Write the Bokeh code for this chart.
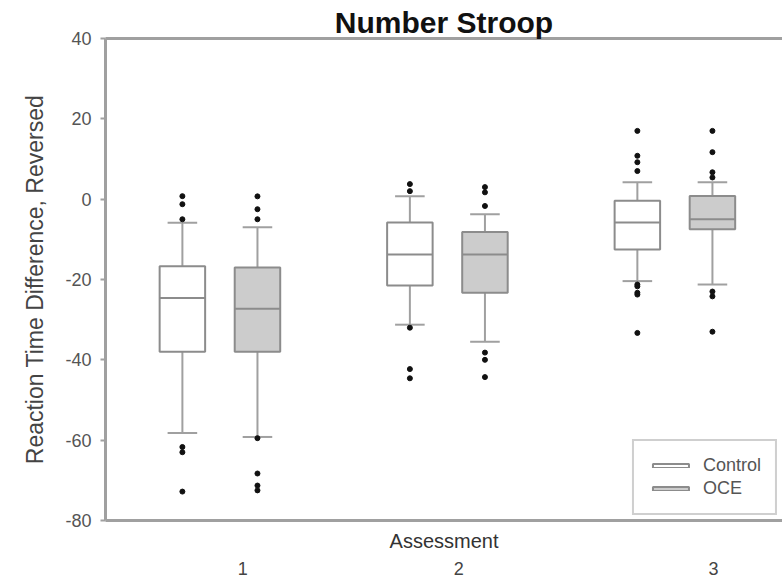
from bokeh.plotting import figure
from bokeh.models import (LinearAxis, FixedTicker, Title, Legend, LegendItem,
                          Range1d, ColumnDataSource)
from bokeh.embed import file_html
from bokeh.resources import INLINE

# ---------------- data ----------------
assessments = [1, 2, 3]
tick_pos = [1.10, 2.05, 3.17]
tick_labels = ["1", "2", "3"]
y_ticks = [-80, -60, -40, -20, 0, 20, 40]
y_tick_labels = ["-80", "-60", "-40", "-20", "0", "20", "40"]

control_q1 = [-38.0, -21.5, -12.5]
control_median = [-24.6, -13.75, -5.8]
control_q3 = [-16.7, -5.8, -0.4]
control_lower = [-58.2, -31.25, -20.4]
control_upper = [-5.9, 0.75, 4.2]
control_outliers = [
    [0.75, -1.25, -5.0, -61.7, -63.0, -72.8],
    [3.75, 2.0, -32.0, -42.3, -44.6],
    [17.0, 10.8, 9.2, 7.0, -21.25, -21.7, -23.3, -23.75, -33.3],
]

oce_q1 = [-38.0, -23.3, -7.5]
oce_median = [-27.3, -13.75, -5.0]
oce_q3 = [-17.0, -8.2, 0.8]
oce_lower = [-59.2, -35.5, -21.25]
oce_upper = [-7.0, -3.75, 4.2]
oce_outliers = [
    [0.7, -2.5, -5.0, -59.5, -68.3, -71.3, -72.5],
    [3.0, 1.7, -1.7, -38.2, -40.0, -44.3],
    [17.0, 11.7, 6.7, 5.4, -23.0, -24.2, -33.0],
]

# ---------------- style ----------------
FONT = "Liberation Sans"
AXIS_C = "#a0a0a0"
BOX_C = "#8c8c8c"
OFFSET = 0.165
BOX_W = 0.20
CAP_W = 0.13

p = figure(width=782, height=578, x_range=Range1d(0.497, 3.473),
           y_range=Range1d(-80, 40), title=None, x_axis_location=None,
           toolbar_location=None, output_backend="svg",
           min_border_left=105, min_border_right=0, min_border_top=38,
           min_border_bottom=58)
p.grid.visible = False
p.outline_line_color = None

# left axis
ya = p.yaxis[0]
ya.ticker = FixedTicker(ticks=y_ticks)
ya.major_label_overrides = {t: s for t, s in zip(y_ticks, y_tick_labels)}
ya.minor_tick_line_color = None
ya.axis_line_color = AXIS_C
ya.axis_line_width = 3
ya.major_tick_line_color = AXIS_C
ya.major_tick_line_width = 2
ya.major_tick_in = 0
ya.major_tick_out = 5
ya.major_label_standoff = 9
ya.major_label_text_font = FONT
ya.major_label_text_font_size = "18px"
ya.major_label_text_color = "#555555"
ya.axis_label = "Reaction Time Difference, Reversed"
ya.axis_label_text_font = FONT
ya.axis_label_text_font_style = "normal"
ya.axis_label_text_font_size = "23px"
ya.axis_label_text_color = "#444444"
ya.axis_label_standoff = 14

# top line
top = LinearAxis(ticker=FixedTicker(ticks=[]), axis_line_color=AXIS_C,
                 axis_line_width=3, major_tick_line_color=None,
                 minor_tick_line_color=None, major_label_text_font_size="0px")
p.add_layout(top, "above")
p.add_layout(Title(text="Number Stroop", align="center", text_font=FONT,
                   text_font_size="30px", text_font_style="bold",
                   text_color="#111111", standoff=0, offset=0), "above")

# bottom line + label + tick labels
bot = LinearAxis(ticker=FixedTicker(ticks=[]), axis_line_color=AXIS_C,
                 axis_line_width=3, major_tick_line_color=None,
                 minor_tick_line_color=None, major_label_text_font_size="0px",
                 major_label_standoff=0)
p.add_layout(bot, "below")
p.add_layout(Title(text="Assessment", align="center", text_font=FONT,
                   text_font_size="20px", text_font_style="normal",
                   text_color="#333333", standoff=14, offset=0), "below")
bot2 = LinearAxis(ticker=FixedTicker(ticks=tick_pos),
                  major_label_overrides={tp: lb for tp, lb in zip(tick_pos, tick_labels)},
                  axis_line_color=None, major_tick_line_color=None,
                  minor_tick_line_color=None, major_label_standoff=-3,
                  major_label_text_font=FONT, major_label_text_font_size="18px",
                  major_label_text_color="#444444")
p.add_layout(bot2, "below")


def draw(xs, q1, med, q3, lo, hi, outl, fill):
    src = ColumnDataSource(dict(x=xs, q1=q1, med=med, q3=q3, lo=lo, hi=hi,
                                l=[x - BOX_W / 2 for x in xs],
                                r=[x + BOX_W / 2 for x in xs],
                                cl=[x - CAP_W / 2 for x in xs],
                                cr=[x + CAP_W / 2 for x in xs]))
    p.segment(x0="x", y0="q3", x1="x", y1="hi", source=src, line_color=AXIS_C, line_width=2)
    p.segment(x0="x", y0="q1", x1="x", y1="lo", source=src, line_color=AXIS_C, line_width=2)
    p.segment(x0="cl", y0="hi", x1="cr", y1="hi", source=src, line_color=AXIS_C, line_width=2)
    p.segment(x0="cl", y0="lo", x1="cr", y1="lo", source=src, line_color=AXIS_C, line_width=2)
    r = p.vbar(x="x", width=BOX_W, top="q3", bottom="q1", source=src,
               fill_color=fill, line_color=BOX_C, line_width=2)
    p.segment(x0="l", y0="med", x1="r", y1="med", source=src, line_color=BOX_C, line_width=2)
    ox, oy = [], []
    for x, vals in zip(xs, outl):
        ox += [x] * len(vals)
        oy += vals
    p.scatter(ox, oy, size=5, color="#111111")
    return r


r_c = draw([a - OFFSET for a in assessments], control_q1, control_median, control_q3,
           control_lower, control_upper, control_outliers, "white")
r_o = draw([a + OFFSET for a in assessments], oce_q1, oce_median, oce_q3,
           oce_lower, oce_upper, oce_outliers, "#cccccc")

legend = Legend(items=[LegendItem(label="Control", renderers=[r_c]),
                       LegendItem(label="OCE", renderers=[r_o])],
                location="bottom_right", margin=5, padding=14, spacing=2,
                glyph_width=45, glyph_height=5, label_height=20,
                label_standoff=10, label_text_font=FONT,
                label_text_font_size="18px", label_text_color="#555555",
                border_line_color="#a0a0a0", border_line_width=2,
                background_fill_alpha=1.0)
p.add_layout(legend)

open("out.html", "w").write(file_html(p, INLINE))
